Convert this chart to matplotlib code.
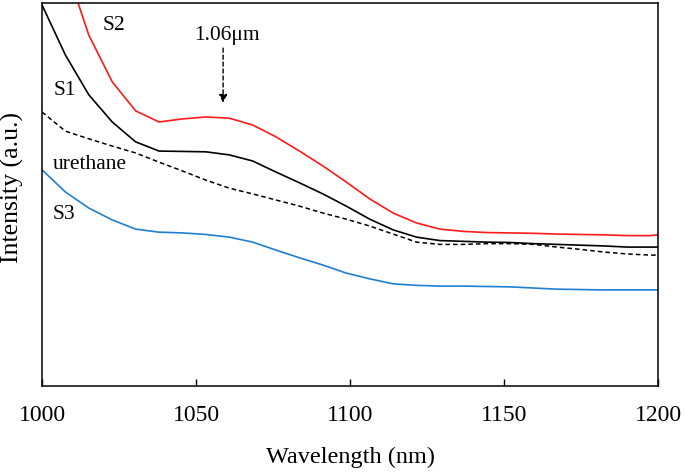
import matplotlib
matplotlib.use('Agg')
import matplotlib.pyplot as plt

plt.rcParams['font.family'] = ['Liberation Serif', 'DejaVu Serif']

# wavelength sampling (nm)
wl = [1000, 1007.6, 1015.2, 1022.8, 1030.4, 1038, 1045.6, 1053.2, 1060.8, 1068.4,
      1076, 1083.6, 1091.2, 1098.8, 1106.4, 1114, 1121.6, 1129.2, 1136.8, 1144.4,
      1152, 1159.6, 1167.2, 1174.8, 1182.4, 1190, 1197.6, 1200]

# intensities (a.u.)
s2 = [1.282, 1.099, 0.916, 0.794, 0.718, 0.689, 0.697, 0.702, 0.699, 0.681,
      0.650, 0.613, 0.574, 0.532, 0.488, 0.451, 0.425, 0.409, 0.403, 0.400,
      0.399, 0.398, 0.396, 0.395, 0.394, 0.392, 0.392, 0.394]
s1 = [0.995, 0.864, 0.760, 0.689, 0.637, 0.613, 0.612, 0.611, 0.603, 0.587,
      0.558, 0.530, 0.501, 0.469, 0.435, 0.407, 0.388, 0.379, 0.377, 0.375,
      0.374, 0.371, 0.369, 0.367, 0.365, 0.362, 0.362, 0.362]
urethane = [0.715, 0.665, 0.645, 0.626, 0.608, 0.584, 0.561, 0.537, 0.516, 0.501,
            0.485, 0.469, 0.451, 0.435, 0.417, 0.396, 0.375, 0.369, 0.369, 0.371,
            0.371, 0.369, 0.362, 0.356, 0.349, 0.344, 0.341, 0.341]
s3 = [0.564, 0.506, 0.464, 0.433, 0.409, 0.401, 0.399, 0.395, 0.388, 0.375,
      0.354, 0.334, 0.315, 0.294, 0.279, 0.266, 0.262, 0.260, 0.260, 0.259,
      0.258, 0.255, 0.252, 0.251, 0.250, 0.250, 0.250, 0.250]

xticks = [1000, 1050, 1100, 1150, 1200]

fig = plt.figure(figsize=(6.84, 4.73), dpi=100)
ax = fig.add_axes([0.0614, 0.1848, 0.9006, 0.8089])

ax.plot(wl, s2, color='#ff1a1a', lw=1.2)
ax.plot(wl, s1, color='black', lw=1.2)
ax.plot(wl, urethane, color='black', lw=1.1, ls=(0, (3, 2)))
ax.plot(wl, s3, color='#1f7fd0', lw=1.2)

ax.set_xlim(1000, 1200)
ax.set_ylim(0, 1)
ax.set_xticks(xticks)
ax.set_yticks([])
ax.tick_params(axis='x', direction='in', length=5, width=1, pad=14, labelsize=17)
for sp in ax.spines.values():
    sp.set_linewidth(1.1)

ax.set_xlabel('Wavelength (nm)', fontsize=17.5)
ax.xaxis.set_label_coords(0.5, -0.187)
ax.xaxis.label.set_va('center')
ax.set_ylabel('Intensity (a.u.)', fontsize=18.5)
ax.yaxis.set_label_coords(-0.048, 0.519)
ax.yaxis.label.set_va('center')

ax.text(1023.4, 0.942, 'S2', fontsize=15.5, ha='center', va='center')
ax.text(1007.5, 0.772, 'S1', fontsize=15.5, ha='center', va='center')
ax.text(1015.6, 0.579, 'urethane', fontsize=15.5, ha='center', va='center')
ax.text(1007.1, 0.446, 'S3', fontsize=15.5, ha='center', va='center')

ax.text(1060.1, 0.916, '1.06\u03bcm', fontsize=15.5, ha='center', va='center')
ax.annotate('', xy=(1058.8, 0.739), xytext=(1058.8, 0.882),
            arrowprops=dict(arrowstyle='-|>', color='black', lw=1,
                            ls=(0, (3, 2)), mutation_scale=12,
                            shrinkA=0, shrinkB=0))

fig.savefig('out.png', dpi=100)
